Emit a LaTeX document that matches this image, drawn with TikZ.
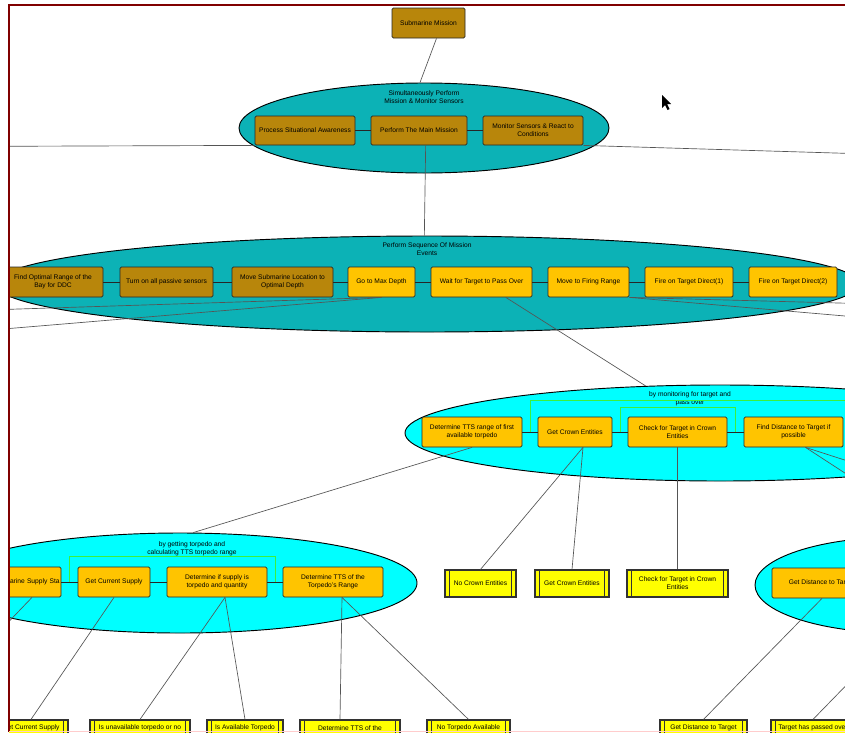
\documentclass[tikz,border=0pt]{standalone}
\usepackage{fontspec}
\setmainfont{Liberation Sans}
\usetikzlibrary{shapes.geometric,calc}
\definecolor{darkgold}{RGB}{184,134,11}
\definecolor{ambergold}{RGB}{255,196,0}
\definecolor{tealfill}{RGB}{12,178,182}
\definecolor{cyanfill}{RGB}{0,255,255}
\definecolor{leafyellow}{RGB}{255,255,0}
\definecolor{brackgreen}{RGB}{60,240,60}
\definecolor{framered}{RGB}{128,0,0}
\definecolor{conngray}{RGB}{85,85,85}
\tikzset{
  every node/.style={font=\fontsize{5}{6}\selectfont},
  actbox/.style={draw=black!85, fill=darkgold, rounded corners=1pt, align=center,
    inner sep=1pt, minimum height=22.5pt, line width=0.6pt},
  evtbox/.style={actbox, fill=ambergold},
  leafbox/.style={draw=black!80, fill=leafyellow, line width=0.9pt, align=center,
    inner sep=1pt, minimum height=20.25pt,
    path picture={
      \draw[black!80, line width=0.6pt] ([xshift=3.5pt]path picture bounding box.south west) -- ([xshift=3.5pt]path picture bounding box.north west);
      \draw[black!80, line width=0.6pt] ([xshift=-3.5pt]path picture bounding box.south east) -- ([xshift=-3.5pt]path picture bounding box.north east);}},
  grpell/.style={ellipse, draw=black, line width=0.7pt, inner sep=0pt},
  grptitle/.style={align=center, inner sep=0pt},
  conn/.style={draw=conngray, line width=0.5pt},
  link/.style={draw=black!85, line width=0.6pt},
  brack/.style={draw=brackgreen, line width=0.7pt},
}
\begin{document}
\begin{tikzpicture}[x=0.75pt,y=-0.75pt]
	\useasboundingbox (0,0) rectangle (845,732);
	\fill[white] (0,0) rectangle (845,732);
	\begin{scope}
		\clip (9,5) rectangle (845,732);
		% gruppi
		\node[grpell, fill=tealfill, minimum width=277.5pt, minimum height=67.5pt] (simEll) at (424,128) {};
		\node[grpell, fill=tealfill, minimum width=648pt, minimum height=72pt] (seqEll) at (427,284) {};
		\node[grpell, fill=cyanfill, minimum width=472.5pt, minimum height=72pt] (monEll) at (720,433) {};
		\node[grpell, fill=cyanfill, minimum width=355.5pt, minimum height=75pt] (supEll) at (180,583) {};
		\node[grpell, fill=cyanfill, minimum width=217.5pt, minimum height=72pt] (distEll) at (900,585) {};

		\node[grptitle] (simTitle) at (424,97) {Simultaneously Perform\\Mission \& Monitor Sensors};
		\node[grptitle] (seqTitle) at (427,249) {Perform Sequence Of Mission\\Events};
		\node[grptitle] (monTitle) at (690,399) {by monitoring for target and\\pass over};
		\node[grptitle] (supTitle) at (192,549) {by getting torpedo and\\calculating TTS torpedo range};

		% missione
		\node[actbox, minimum width=54.75pt] (mission) at (428.5,23) {Submarine Mission};
		\node[actbox, minimum width=75pt, minimum height=21.75pt] (procSA) at (305,130.5) {Process Situational Awareness};
		\node[actbox, minimum width=72pt, minimum height=21.75pt] (mainMis) at (419,130.5) {Perform The Main Mission};
		\node[actbox, minimum width=75pt, minimum height=21.75pt] (monSR) at (533,130.5) {Monitor Sensors \& React to\\Conditions};

		% sequenza
		\node[actbox, minimum width=75pt] (optRange) at (53,282) {Find Optimal Range of the\\Bay for DDC};
		\node[actbox, minimum width=69.75pt] (passSens) at (166.5,282) {Turn on all passive sensors};
		\node[actbox, minimum width=75.75pt] (moveDepth) at (282.5,282) {Move Submarine Location to\\Optimal Depth};
		\node[evtbox, minimum width=50.25pt] (goMax) at (381.5,282) {Go to Max Depth};
		\node[evtbox, minimum width=75.75pt] (waitTgt) at (481.5,282) {Wait for Target to Pass Over};
		\node[evtbox, minimum width=60.75pt] (fireRange) at (588.5,282) {Move to Firing Range};
		\node[evtbox, minimum width=66pt] (fireA) at (689,282) {Fire on Target Direct(1)};
		\node[evtbox, minimum width=66pt] (fireB) at (793,282) {Fire on Target Direct(2)};

		% monitoraggio
		\node[evtbox, minimum width=75pt] (ttsFirst) at (472,432) {Determine TTS range of first\\available torpedo};
		\node[evtbox, minimum width=55.5pt] (getCrown) at (575,432) {Get Crown Entities};
		\node[evtbox, minimum width=74.25pt] (chkTgt) at (677.5,432) {Check for Target in Crown\\Entities};
		\node[evtbox, minimum width=74.25pt] (findDist) at (793.5,432) {Find Distance to Target if\\possible};

		\node[leafbox, minimum width=53.25pt] (noCrown) at (480.5,583.5) {No Crown Entities};
		\node[leafbox, minimum width=55.5pt] (getCrownLf) at (572,583.5) {Get Crown Entities};
		\node[leafbox, minimum width=75.75pt] (chkTgtLf) at (677.5,583.5) {Check for Target in Crown\\Entities};

		% distanza
		\node[evtbox, minimum width=75pt] (getDist) at (822,583) {Get Distance to Target};

		% siluro
		\node[evtbox, minimum width=75pt, text width=73pt, align=right] (supSta) at (11,582) {Get Submarine Supply Sta};
		\node[evtbox, minimum width=54pt] (curSup) at (114,582) {Get Current Supply};
		\node[evtbox, minimum width=75pt] (detSup) at (217,582) {Determine if supply is\\torpedo and quantity};
		\node[evtbox, minimum width=75pt] (detTTS) at (333,582) {Determine TTS of the\\Torpedo's Range};

		\node[leafbox, minimum width=55.5pt, minimum height=12pt] (curSupLf) at (31,728) {Get Current Supply};
		\node[leafbox, minimum width=75pt, minimum height=12pt] (unavLf) at (140,728) {Is unavailable torpedo or no};
		\node[leafbox, minimum width=57pt, minimum height=12pt] (availLf) at (245,728) {Is Available Torpedo};
		\node[leafbox, minimum width=75pt, minimum height=12pt] (detTTSLf) at (350,728) {Determine TTS of the};
		\node[leafbox, minimum width=62.25pt, minimum height=12pt] (noTorpLf) at (468.5,728) {No Torpedo Available};
		\node[leafbox, minimum width=65.25pt, minimum height=12pt] (getDistLf) at (703.5,728) {Get Distance to Target};
		\node[leafbox, minimum width=63pt, minimum height=12pt] (passLf) at (813,728) {Target has passed over};

		% collegamenti
		\coordinate (offPSA) at (-200,147);
		\coordinate (offMSR) at (1100,161);
		\coordinate (offG1) at (-200,316);
		\coordinate (offG2) at (-200,346);
		\coordinate (offR1) at (1100,310);
		\coordinate (offR2) at (1100,338);
		\coordinate (offF1) at (1000,510);
		\coordinate (offF2) at (1000,574);
		\coordinate (offP) at (900,630);
		\coordinate (offS) at (-50,683);

		\draw[conn] ([xshift=6pt]mission.south) -- ([xshift=-3pt]simEll.north);
		\draw[link] (procSA) -- (mainMis);
		\draw[link] (mainMis) -- (monSR);
		\draw[conn] (procSA.south west) -- (offPSA);
		\draw[conn] (monSR.south east) -- (offMSR);
		\draw[conn] ([xshift=5pt]mainMis.south) -- ([xshift=-2pt]seqEll.north);

		\draw[link] (optRange) -- (passSens);
		\draw[link] (passSens) -- (moveDepth);
		\draw[link] (moveDepth) -- (goMax);
		\draw[link] (goMax) -- (waitTgt);
		\draw[link] (waitTgt) -- (fireRange);
		\draw[link] (fireRange) -- (fireA);
		\draw[link] (fireA) -- (fireB);
		\draw[conn] (goMax.south) -- (offG1);
		\draw[conn] (goMax.south) -- (offG2);
		\draw[conn] (waitTgt) -- (monEll);
		\draw[conn] (fireRange.south east) -- (offR1);
		\draw[conn] (fireRange.south east) -- (offR2);

		\draw[link] (ttsFirst) -- (getCrown);
		\draw[link] (getCrown) -- (chkTgt);
		\draw[link] (chkTgt) -- (findDist);
		\draw[conn] (ttsFirst.south) -- ([xshift=10pt]supEll.north);
		\draw[conn] ([xshift=6pt]getCrown.south) -- (noCrown.north);
		\draw[conn] ([xshift=6pt]getCrown.south) -- (getCrownLf.north);
		\draw[conn] (chkTgt.south) -- (chkTgtLf.north);
		\draw[conn] ([xshift=9pt]findDist.south) -- (offF1);
		\draw[conn] ([xshift=9pt]findDist.south) -- (offF2);

		\draw[conn] (getDist.south) -- (getDistLf.north);
		\draw[conn] (passLf.north) -- (offP);

		\draw[link] (supSta) -- (curSup);
		\draw[link] (curSup) -- (detSup);
		\draw[link] (detSup) -- (detTTS);
		\draw[conn] ([xshift=15.75pt]supSta.south) -- (offS);
		\draw[conn] (curSup.south) -- (curSupLf.north);
		\draw[conn] ([xshift=6pt]detSup.south) -- (unavLf.north);
		\draw[conn] ([xshift=6pt]detSup.south) -- (availLf.north);
		\draw[conn] ([xshift=6.75pt]detTTS.south) -- ([xshift=-7.5pt]detTTSLf.north);
		\draw[conn] ([xshift=6.75pt]detTTS.south) -- (noTorpLf.north);

		% parentesi verdi
		\draw[brack] ($(ttsFirst.east)!.5!(getCrown.west)$) |- (900,400);
		\draw[brack] ($(getCrown.east)!.5!(chkTgt.west)$) -- ++(0,-25) -| ($(chkTgt.east)!.5!(findDist.west)$);
		\draw[brack] ($(supSta.east)!.5!(curSup.west)$) -- ++(0,-26) -| ($(detSup.east)!.5!(detTTS.west)$);

		% puntatore
		\fill[black] (662,95) -- (662,108) -- (665,105) -- (667.5,110) -- (669.5,109) -- (667,104) -- (671,104) -- cycle;
	\end{scope}
	% cornice
	\draw[framered, line width=0.8pt] (9,732) -- (9,5) -- (845,5);
	\draw[red!20, line width=0.5pt] (9,731.5) -- (845,731.5);
\end{tikzpicture}
\end{document}
